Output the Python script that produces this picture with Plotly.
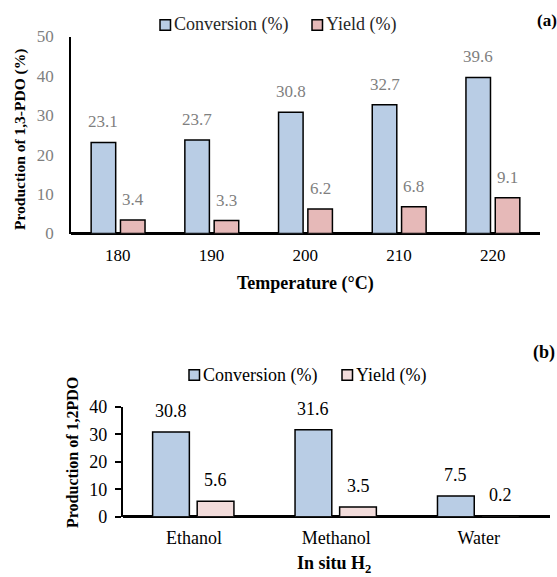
import plotly.graph_objects as go

# Panel (a): reaction temperature series
temperatures = ["180", "190", "200", "210", "220"]
conversion_a = [23.1, 23.7, 30.8, 32.7, 39.6]
yield_a = [3.4, 3.3, 6.2, 6.8, 9.1]

# Panel (b): in situ hydrogen source series
h2_sources = ["Ethanol", "Methanol", "Water"]
conversion_b = [30.8, 31.6, 7.5]
yield_b = [5.6, 3.5, 0.2]

series_names = ["Conversion (%)", "Yield (%)"]

W, H = 557, 577
SERIF = "Liberation Serif"
BLUE = "#b9cde5"
ROSE = "#e6b9b8"
BLUSH = "#f2dcdb"
GREY = "#7f7f7f"
INK = "#262626"


def fx(p):
    return p / W


def fy(p):
    return 1 - p / H


# bar geometry in category units: (offset, width)
GEOM_A = {"conv": (-0.285, 0.262), "yield": (0.028, 0.262)}
GEOM_B = {"conv": (-0.290, 0.258), "yield": (0.023, 0.258)}

fig = go.Figure()

outline = dict(color="black", width=1.5)

fig.add_trace(go.Bar(x=temperatures, y=conversion_a, name=series_names[0],
                     offset=GEOM_A["conv"][0], width=GEOM_A["conv"][1],
                     marker=dict(color=BLUE, line=outline),
                     xaxis="x", yaxis="y", showlegend=False))
fig.add_trace(go.Bar(x=temperatures, y=yield_a, name=series_names[1],
                     offset=GEOM_A["yield"][0], width=GEOM_A["yield"][1],
                     marker=dict(color=ROSE, line=outline),
                     xaxis="x", yaxis="y", showlegend=False))
fig.add_trace(go.Bar(x=h2_sources, y=conversion_b, name=series_names[0],
                     offset=GEOM_B["conv"][0], width=GEOM_B["conv"][1],
                     marker=dict(color=BLUE, line=outline),
                     xaxis="x2", yaxis="y2", showlegend=False))
fig.add_trace(go.Bar(x=h2_sources, y=yield_b, name=series_names[1],
                     offset=GEOM_B["yield"][0], width=GEOM_B["yield"][1],
                     marker=dict(color=BLUSH, line=outline),
                     xaxis="x2", yaxis="y2", showlegend=False))

annotations = []


def value_labels(values, geom, xref, yref, color, size):
    off, wid = geom
    for i, v in enumerate(values):
        annotations.append(dict(
            x=i + off + wid / 2, y=v, xref=xref, yref=yref,
            xanchor="center", yanchor="bottom", yshift=9,
            text=f"{v:.1f}", showarrow=False,
            font=dict(family=SERIF, size=size, color=color)))


value_labels(conversion_a, GEOM_A["conv"], "x", "y", GREY, 17)
value_labels(yield_a, GEOM_A["yield"], "x", "y", GREY, 17)
value_labels(conversion_b, GEOM_B["conv"], "x2", "y2", "black", 18)
value_labels(yield_b, GEOM_B["yield"], "x2", "y2", "black", 18)


def paper_text(x, y, text, size, angle=0, anchor="center", color="black"):
    annotations.append(dict(x=fx(x), y=fy(y), xref="paper", yref="paper",
                            xanchor=anchor, yanchor="middle", textangle=angle,
                            text=text, showarrow=False,
                            font=dict(family=SERIF, size=size, color=color)))


# axis titles and panel tags
paper_text(20, 140, "<b>Production of 1,3-PDO (%)</b>", 15.5, angle=-90)
paper_text(305, 283, "<b>Temperature (°C)</b>", 18)
paper_text(547, 20, "<b>(a)</b>", 17)
paper_text(72, 453, "<b>Production of 1,2PDO</b>", 16, angle=-90)
paper_text(334, 564, "<b>In situ H<sub>2</sub></b>", 18)
paper_text(544, 353, "<b>(b)</b>", 18)

# legends: swatch + label for each series
shapes = []


def legend_row(items, ycenter, text_color):
    for left, color, label in items:
        shapes.append(dict(type="rect", xref="paper", yref="paper",
                           x0=fx(left), x1=fx(left + 10.5),
                           y0=fy(ycenter - 5.25), y1=fy(ycenter + 5.25),
                           fillcolor=color, line=dict(color="black", width=1.5)))
        paper_text(left + 11.5, ycenter, label, 18, anchor="left", color=text_color)


legend_row([(160, BLUE, series_names[0]), (312, ROSE, series_names[1])], 25, INK)
legend_row([(189, BLUE, series_names[0]), (342, BLUSH, series_names[1])], 375, "black")

fig.update_layout(
    template="none",
    width=W, height=H, autosize=False,
    margin=dict(l=0, r=0, t=0, b=0, pad=0, autoexpand=False),
    paper_bgcolor="white", plot_bgcolor="white",
    barmode="overlay",
    showlegend=False,
    annotations=annotations, shapes=shapes,
    xaxis=dict(domain=[fx(71), fx(539.5)], anchor="y", type="category",
               range=[-0.5, 4.5], showline=False, showgrid=False, zeroline=False,
               ticks="", automargin=False,
               tickfont=dict(family=SERIF, size=17, color="black"),
               ticklabelstandoff=9, fixedrange=True),
    yaxis=dict(domain=[fy(233.5), fy(36.5)], anchor="x", range=[0, 50], dtick=10,
               showline=True, linecolor="black", linewidth=1.5, showgrid=False,
               zeroline=True, zerolinecolor="black", zerolinewidth=3,
               ticks="", automargin=False,
               tickfont=dict(family=SERIF, size=17, color=GREY),
               ticklabelstandoff=12),
    xaxis2=dict(domain=[fx(122.7), fx(550)], anchor="y2", type="category",
                range=[-0.5, 2.5], showline=False, showgrid=False, zeroline=False,
                ticks="", automargin=False,
                tickfont=dict(family=SERIF, size=18, color="black"),
                ticklabelstandoff=8),
    yaxis2=dict(domain=[fy(516.7), fy(406.7)], anchor="x2", range=[0, 40], dtick=10,
                showline=True, linecolor="black", linewidth=1.5, showgrid=False,
                zeroline=True, zerolinecolor="black", zerolinewidth=3,
                ticks="outside", ticklen=6, tickwidth=1.5, tickcolor="black",
                automargin=False,
                tickfont=dict(family=SERIF, size=18, color="black"),
                ticklabelstandoff=4),
)

fig.write_html("out.html")
